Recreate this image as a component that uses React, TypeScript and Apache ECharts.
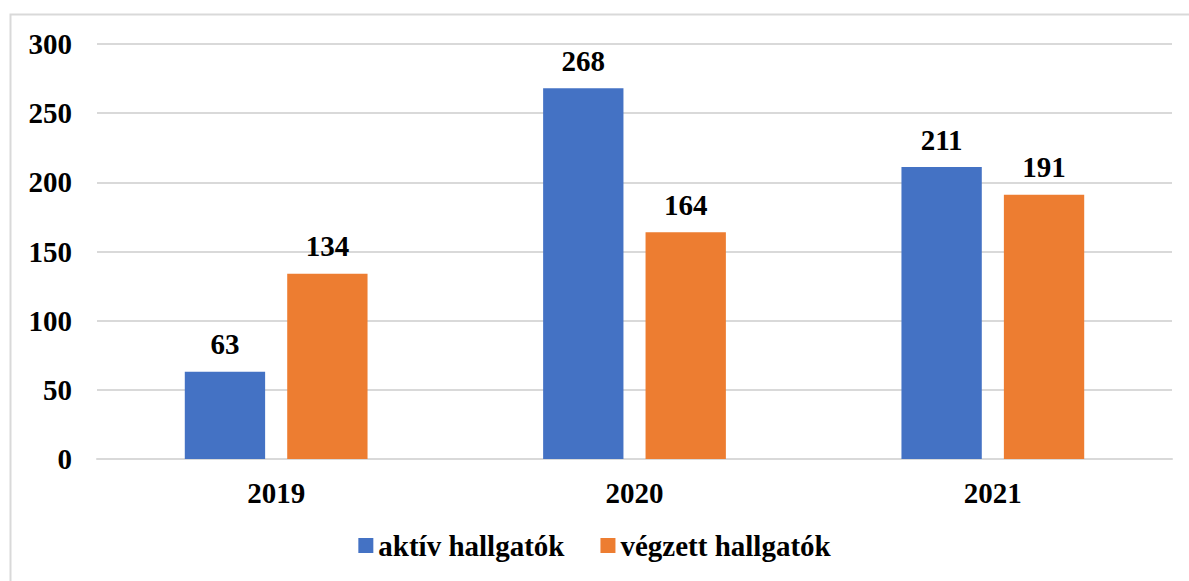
import React, { useEffect, useRef } from "react";
import * as echarts from "echarts";

const categories = ["2019", "2020", "2021"];
const aktiv = [63, 268, 211];
const vegzett = [134, 164, 191];
const seriesNames = ["aktív hallgatók", "végzett hallgatók"];

const FONT = '"Liberation Serif", "Times New Roman", serif';
const FS = 29;

export default function App() {
  const ref = useRef<HTMLDivElement>(null);
  useEffect(() => {
    const chart = echarts.init(ref.current!, null, { renderer: "svg" });
    const labelStyle = {
      show: true,
      position: "top" as const,
      distance: 13,
      fontFamily: FONT,
      fontWeight: "bold" as const,
      fontSize: FS,
      color: "#000",
    };
    chart.setOption({
      animation: false,
      backgroundColor: "#fff",
      graphic: [
        {
          type: "rect",
          shape: { x: 10.5, y: 14.5, width: 1200, height: 600 },
          style: { fill: "none", stroke: "#d9d9d9", lineWidth: 2 },
          silent: true,
          z: -10,
        },
      ],
      grid: { left: 97, right: 17, top: 44, bottom: 122, containLabel: false },
      legend: {
        bottom: 16,
        left: "center",
        itemWidth: 15,
        itemHeight: 15,
        itemGap: 36,
        icon: "rect",
        textStyle: { fontFamily: FONT, fontWeight: "bold", fontSize: FS, color: "#000" },
        data: seriesNames,
      },
      xAxis: {
        type: "category",
        data: categories,
        axisTick: { show: false },
        axisLine: { show: true, lineStyle: { color: "#d9d9d9", width: 2 } },
        axisLabel: { margin: 19, fontFamily: FONT, fontWeight: "bold", fontSize: FS, color: "#000" },
      },
      yAxis: {
        type: "value",
        min: 0,
        max: 300,
        interval: 50,
        axisLine: { show: false },
        axisTick: { show: false },
        splitLine: { lineStyle: { color: "#d9d9d9", width: 2 } },
        axisLabel: { margin: 25, fontFamily: FONT, fontWeight: "bold", fontSize: FS, color: "#000" },
      },
      series: [
        {
          name: seriesNames[0],
          type: "bar",
          data: aktiv,
          itemStyle: { color: "#4472C4" },
          barGap: "27.5%",
          barCategoryGap: "49%",
          label: labelStyle,
        },
        {
          name: seriesNames[1],
          type: "bar",
          data: vegzett,
          itemStyle: { color: "#ED7D31" },
          barGap: "27.5%",
          barCategoryGap: "49%",
          label: labelStyle,
        },
      ],
    });
    return () => chart.dispose();
  }, []);
  return (
    <div
      ref={ref}
      style={{ position: "fixed", left: 0, top: 0, width: 1189, height: 581, background: "#fff" }}
    />
  );
}
